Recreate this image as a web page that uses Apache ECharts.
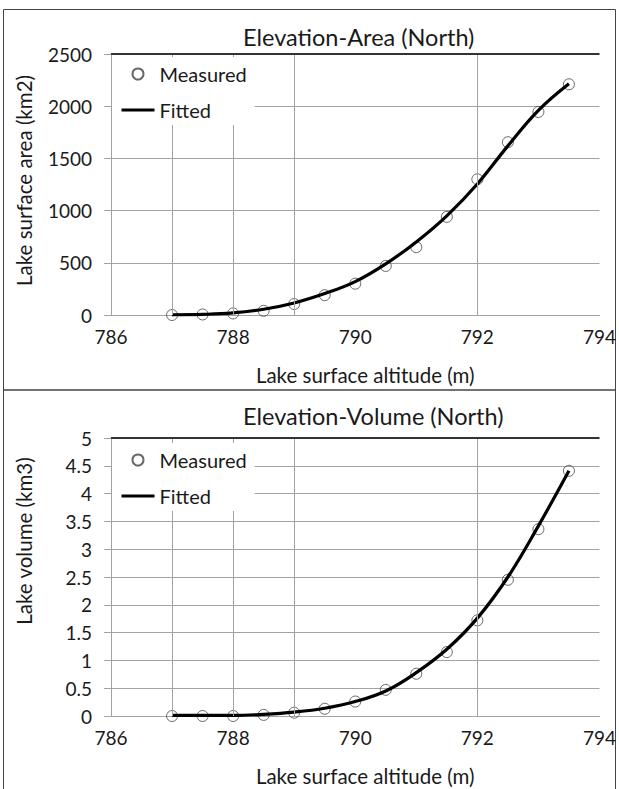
<!DOCTYPE html>
<html>
<head>
<meta charset="utf-8">
<script src="https://cdn.jsdelivr.net/npm/echarts@6/dist/echarts.min.js"></script>
<style>
html,body{margin:0;padding:0;background:#fff;}
#c{width:619px;height:789px;}
</style>
</head>
<body>
<div id="c"></div>
<script>
// ---- data ----
const altitudes = [787, 787.5, 788, 788.5, 789, 789.5, 790, 790.5, 791, 791.5, 792, 792.5, 793, 793.5];
const areaMeasured = [0, 5, 15, 40, 105, 190, 300, 470, 650, 940, 1300, 1655, 1945, 2210];
const areaFitted   = [2, 6, 20, 55, 115, 205, 320, 490, 700, 950, 1255, 1620, 1960, 2215];
const volMeasured  = [0, 0, 0, 0.02, 0.06, 0.13, 0.26, 0.47, 0.76, 1.15, 1.72, 2.45, 3.36, 4.41];
const volFitted    = [0.01, 0.01, 0.01, 0.03, 0.07, 0.14, 0.26, 0.45, 0.78, 1.2, 1.76, 2.5, 3.42, 4.41];
const vGridLines   = [787, 788, 789, 792];
const titles = ['Elevation-Area (North)', 'Elevation-Volume (North)'];
const yNames = ['Lake surface area (km2)', 'Lake volume (km3)'];
const xName = 'Lake surface altitude (m)';
const legendNames = ['Measured', 'Fitted'];

const FONT = 'Lato';
const TXT = '#1a1a1a';
const GRID = '#a3a3a3';

const pairs = (xs, ys) => xs.map((x, i) => [x, ys[i]]);

const chart = echarts.init(document.getElementById('c'), null, {renderer: 'svg'});

function xAxisCfg(gi) {
  return {
    type: 'value', gridIndex: gi, min: 786, max: 794, interval: 2,
    name: xName, nameLocation: 'middle', nameGap: 49,
    nameTextStyle: {fontFamily: FONT, fontSize: 20.5, color: TXT, padding: [0, 0, 0, 20]},
    axisLine: {show: true, lineStyle: {color: GRID, width: 1}},
    axisTick: {show: false},
    axisLabel: {fontFamily: FONT, fontSize: 19, color: TXT, margin: 12},
    splitLine: {show: false}
  };
}
function yAxisCfg(gi, max, interval, namePad) {
  return {
    type: 'value', gridIndex: gi, min: 0, max: max, interval: interval,
    name: yNames[gi], nameLocation: 'middle', nameGap: 77, nameRotate: 90,
    nameTextStyle: {fontFamily: FONT, fontSize: 20.5, color: TXT, padding: namePad},
    axisLine: {show: true, lineStyle: {color: GRID, width: 1}},
    axisTick: {show: true, inside: false, length: 7, lineStyle: {color: GRID}},
    axisLabel: {fontFamily: FONT, fontSize: 19, color: TXT, margin: 19, formatter: v => String(v)},
    splitLine: {show: true, lineStyle: {color: GRID, width: 1}}
  };
}
function seriesFor(gi, measured, fitted, topVal) {
  return [
    {
      name: legendNames[0], type: 'scatter', xAxisIndex: gi, yAxisIndex: gi,
      data: pairs(altitudes, measured), symbol: 'circle', symbolSize: 11, z: 2,
      itemStyle: {color: 'rgba(255,255,255,0)', borderColor: '#444', borderWidth: 1},
      markLine: {
        silent: true, symbol: 'none', label: {show: false},
        lineStyle: {color: GRID, type: 'solid', width: 1},
        data: vGridLines.map(v => ({xAxis: v})).concat([{yAxis: topVal, lineStyle: {color: '#333', width: 2}}])
      }
    },
    {
      name: legendNames[1], type: 'line', xAxisIndex: gi, yAxisIndex: gi,
      data: pairs(altitudes, fitted), smooth: 0.4, symbol: 'none', showSymbol: false, z: 3,
      lineStyle: {color: '#000', width: 3.2},
      itemStyle: {color: 'rgba(0,0,0,0)', borderWidth: 0}
    }
  ];
}
function legendFor(top) {
  return {
    orient: 'vertical', left: 112, top: top, backgroundColor: '#fff', z: 10,
    padding: [7, 8, 5, 8], itemWidth: 33, itemHeight: 11, itemGap: 16,
    selectedMode: false,
    lineStyle: {width: 3},
    textStyle: {fontFamily: FONT, fontSize: 20, lineHeight: 20, color: TXT},
    data: [{name: legendNames[0], icon: 'circle'}, {name: legendNames[1]}]
  };
}

chart.setOption({
  animation: false,
  title: [
    {text: titles[0], left: 238, top: 20, textStyle: {fontFamily: FONT, fontSize: 23.5, fontWeight: 'normal', color: TXT}},
    {text: titles[1], left: 238, top: 399, textStyle: {fontFamily: FONT, fontSize: 23.5, fontWeight: 'normal', color: TXT}}
  ],
  grid: [
    {left: 111, right: 18, top: 54, height: 261},
    {left: 111, right: 18, top: 438, height: 278}
  ],
  legend: [legendFor(57), legendFor(443)],
  xAxis: [xAxisCfg(0), xAxisCfg(1)],
  yAxis: [yAxisCfg(0, 2500, 500, [0, 0, 0, 8]), yAxisCfg(1, 5, 0.5, [0, 0, 0, 72])],
  series: seriesFor(0, areaMeasured, areaFitted, 2500).concat(seriesFor(1, volMeasured, volFitted, 5)),
  graphic: [
    {type: 'rect', shape: {x: 3.5, y: 9.5, width: 612, height: 380.5}, style: {fill: 'none', stroke: '#444', lineWidth: 1}, silent: true},
    {type: 'rect', shape: {x: 3.5, y: 390, width: 612, height: 402}, style: {fill: 'none', stroke: '#444', lineWidth: 1}, silent: true}
  ]
});
</script>
</body>
</html>
